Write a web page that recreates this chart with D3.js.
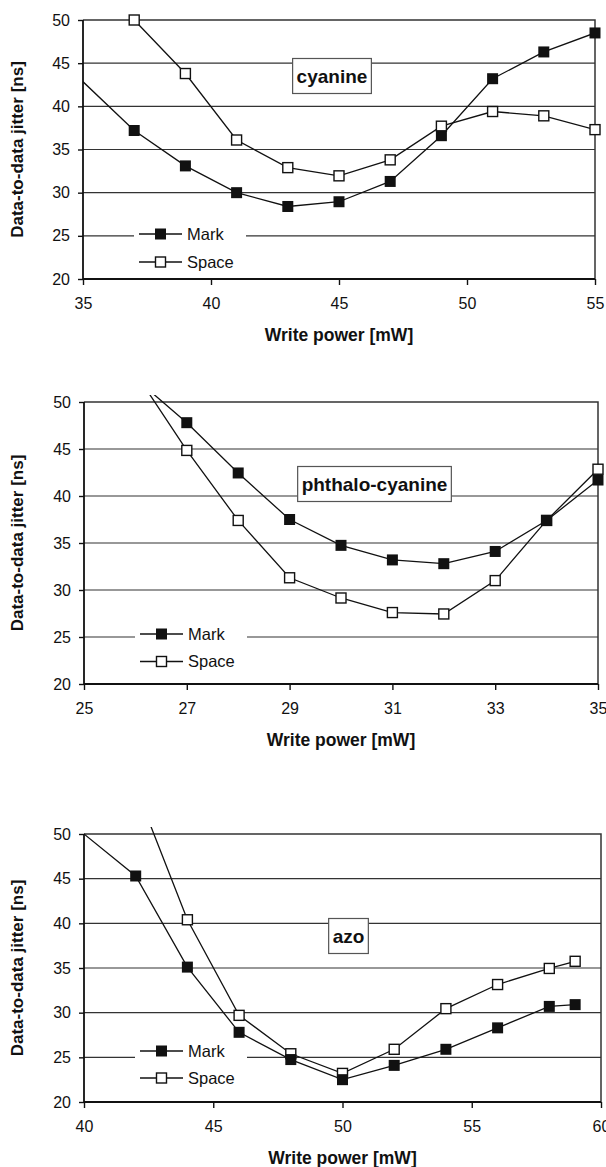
<html>
<head>
  <meta charset='utf-8' />
  <style>
    body { margin: 0; padding: 0; background: white; }
    text { font-family: 'Liberation Sans', Arial, sans-serif; fill: #111; }
  </style>
</head>
<body>
  <svg width='606' height='1167'></svg>

<script src="https://d3js.org/d3.v7.min.js"></script>
<script>
///////////////////
/// Data
///////////////////

  // cyanine (first mark point lies left of the axis, only its line shows)
  cyanineMarkPower  = [33, 37, 39, 41, 43, 45, 47, 49, 51, 53, 55];
  cyanineMark       = [48.5, 37.2, 33.1, 30.0, 28.4, 28.95, 31.3, 36.6, 43.2, 46.3, 48.5];
  cyanineSpacePower = [37, 39, 41, 43, 45, 47, 49, 51, 53, 55];
  cyanineSpace      = [50.0, 43.8, 36.1, 32.9, 31.95, 33.8, 37.7, 39.4, 38.9, 37.3];
  cyanineTicks      = [35, 40, 45, 50, 55];

  // phthalo-cyanine (26 mW point is above the top of the axis)
  phthaloPower = [26, 27, 28, 29, 30, 31, 32, 33, 34, 35];
  phthaloMark  = [52.5, 47.8, 42.45, 37.5, 34.75, 33.2, 32.8, 34.1, 37.4, 41.7];
  phthaloSpace = [53.1, 44.85, 37.4, 31.3, 29.15, 27.6, 27.45, 31.0, 37.4, 42.85];
  phthaloTicks = [25, 27, 29, 31, 33, 35];

  // azo
  azoMarkPower  = [38, 42, 44, 46, 48, 50, 52, 54, 56, 58, 59];
  azoMark       = [54.7, 45.3, 35.1, 27.8, 24.75, 22.5, 24.1, 25.9, 28.3, 30.7, 30.9];
  azoSpacePower = [42, 44, 46, 48, 50, 52, 54, 56, 58, 59];
  azoSpace      = [55.2, 40.4, 29.7, 25.4, 23.2, 25.9, 30.45, 33.15, 34.95, 35.75];
  azoTicks      = [40, 45, 50, 55, 60];

  jitterTicks = [20, 25, 30, 35, 40, 45, 50];
  seriesNames = ['Mark', 'Space'];

////////////////////
/// Panels
////////////////////

  panels = [
    { name: 'cyanine', xDomain: [35, 55], xTicks: cyanineTicks,
      mark: d3.zip(cyanineMarkPower, cyanineMark), space: d3.zip(cyanineSpacePower, cyanineSpace),
      box: { left: 83, right: 595, top: 20, bottom: 279 },
      label: [332, 76], legendRows: [-45, -17] },
    { name: 'phthalo-cyanine', xDomain: [25, 35], xTicks: phthaloTicks,
      mark: d3.zip(phthaloPower, phthaloMark), space: d3.zip(phthaloPower, phthaloSpace),
      box: { left: 84, right: 598, top: 402, bottom: 684 },
      label: [374.5, 484], legendRows: [-50, -22.5] },
    { name: 'azo', xDomain: [40, 60], xTicks: azoTicks,
      mark: d3.zip(azoMarkPower, azoMark), space: d3.zip(azoSpacePower, azoSpace),
      box: { left: 84, right: 601, top: 834, bottom: 1102 },
      label: [348.5, 936], legendRows: [-51, -24] }
  ];

  svg = d3.select('svg');

  panels.forEach((p, pi) => {
    b = p.box;
    x = d3.scaleLinear().domain(p.xDomain).range([b.left, b.right]);
    y = d3.scaleLinear().domain([20, 50]).range([b.bottom, b.top]);

    g = svg.append('g').attr('id', `panel_${pi}`);

    // gridlines
    g.append('g')
      .selectAll('line')
      .data(jitterTicks.slice(1, -1))
      .enter().append('line')
      .attr('x1', b.left).attr('x2', b.right)
      .attr('y1', d => y(d)).attr('y2', d => y(d))
      .attr('stroke', '#333').attr('stroke-width', 1.1);

    // frame top/right
    g.append('path')
      .attr('d', `M${b.left},${b.top}H${b.right}V${b.bottom}`)
      .attr('fill', 'none').attr('stroke', '#333').attr('stroke-width', 1.5);

    // legend backdrop hides gridline
    lg = g.append('g').attr('transform', `translate(${b.left},${b.bottom})`);
    lg.append('rect')
      .attr('x', 51).attr('y', p.legendRows[0] - 12)
      .attr('width', 112).attr('height', p.legendRows[1] - p.legendRows[0] + 24)
      .attr('fill', 'white');

    // axes
    yAxis = d3.axisLeft(y).tickValues(jitterTicks).tickSize(5).tickPadding(8);
    g.append('g')
      .attr('transform', `translate(${b.left},0)`)
      .call(yAxis)
      .call(a => a.select('.domain').remove())
      .call(a => a.selectAll('line').attr('stroke', '#111').attr('stroke-width', 1.4))
      .call(a => a.selectAll('text').style('font-size', '16px').attr('fill', '#222'));

    xAxis = d3.axisBottom(x).tickValues(p.xTicks).tickSize(6).tickPadding(13);
    g.append('g')
      .attr('transform', `translate(0,${b.bottom})`)
      .call(xAxis)
      .call(a => a.select('.domain').remove())
      .call(a => a.selectAll('line').attr('stroke', '#111').attr('stroke-width', 1.4))
      .call(a => a.selectAll('text').style('font-size', '16px').attr('fill', '#222'));

    // left / bottom axis lines
    g.append('path')
      .attr('d', `M${b.left},${b.top}V${b.bottom}H${b.right}`)
      .attr('fill', 'none').attr('stroke', '#111').attr('stroke-width', 1.8);

    // titles
    g.append('text')
      .attr('x', (b.left + b.right) / 2).attr('y', b.bottom + 62)
      .attr('text-anchor', 'middle')
      .style('font-size', '17.5px').style('font-weight', 'bold')
      .text('Write power [mW]');

    g.append('text')
      .attr('transform', `translate(23,${(b.top + b.bottom) / 2}) rotate(-90)`)
      .attr('text-anchor', 'middle')
      .style('font-size', '17px').style('font-weight', 'bold')
      .text('Data-to-data jitter [ns]');

    // series lines, clipped a little above the plot top
    clipId = `clip_${pi}`;
    g.append('clipPath').attr('id', clipId)
      .append('rect')
      .attr('x', b.left).attr('y', b.top - 7)
      .attr('width', b.right - b.left).attr('height', b.bottom - b.top + 7);

    line = d3.line().x(d => x(d[0])).y(d => y(d[1]));

    [p.space, p.mark].forEach(s => {
      g.append('path')
        .datum(s)
        .attr('clip-path', `url(#${clipId})`)
        .attr('fill', 'none').attr('stroke', '#111').attr('stroke-width', 1.3)
        .attr('d', line);
    });

    inRange = d => d[0] >= p.xDomain[0] && d[0] <= p.xDomain[1] && d[1] <= 50;

    g.append('g')
      .selectAll('rect')
      .data(p.space.filter(inRange))
      .enter().append('rect')
      .attr('x', d => x(d[0]) - 5).attr('y', d => y(d[1]) - 5)
      .attr('width', 10).attr('height', 10)
      .attr('fill', 'white').attr('stroke', '#111').attr('stroke-width', 1.4);

    g.append('g')
      .selectAll('rect')
      .data(p.mark.filter(inRange))
      .enter().append('rect')
      .attr('x', d => x(d[0]) - 5.5).attr('y', d => y(d[1]) - 5.5)
      .attr('width', 11).attr('height', 11)
      .attr('fill', '#111');

    // legend entries
    seriesNames.forEach((n, i) => {
      ry = p.legendRows[i];
      lg.append('line')
        .attr('x1', 56).attr('x2', 99).attr('y1', ry).attr('y2', ry)
        .attr('stroke', '#111').attr('stroke-width', 1.3);
      if (i == 0) {
        lg.append('rect').attr('x', 72).attr('y', ry - 5.5)
          .attr('width', 11).attr('height', 11).attr('fill', '#111');
      } else {
        lg.append('rect').attr('x', 72.5).attr('y', ry - 5)
          .attr('width', 10).attr('height', 10)
          .attr('fill', 'white').attr('stroke', '#111').attr('stroke-width', 1.4);
      }
      lg.append('text')
        .attr('x', 104).attr('y', ry).attr('dy', '0.35em')
        .style('font-size', '16.5px').attr('fill', '#222')
        .text(n);
    });

    // material label in a box
    lab = g.append('g');
    t = lab.append('text')
      .attr('x', p.label[0]).attr('y', p.label[1]).attr('dy', '0.35em')
      .attr('text-anchor', 'middle')
      .style('font-size', '19px').style('font-weight', 'bold')
      .text(p.name);
    bb = t.node().getBBox();
    lab.insert('rect', 'text')
      .attr('x', bb.x - 4).attr('y', p.label[1] - 17.5)
      .attr('width', bb.width + 8).attr('height', 35)
      .attr('fill', 'white').attr('stroke', '#555').attr('stroke-width', 1.2);
  });

</script>
</body>
</html>
